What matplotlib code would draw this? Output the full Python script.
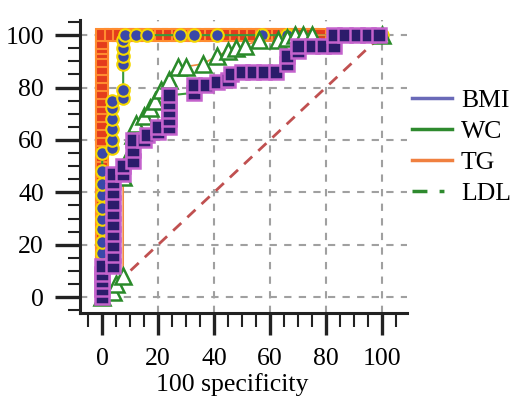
import numpy as np
import matplotlib.pyplot as plt
from matplotlib.lines import Line2D
from matplotlib.ticker import MultipleLocator

# TG (red squares): vertical run at x=0, then along the top
tg_x = [0, 0, 0, 0, 0, 0, 0, 0, 0, 0, 0, 0, 0, 0, 0, 0, 0, 0, 0, 0, 0,
        0, 0, 0, 0, 0, 0, 0, 0, 0, 0, 0, 0, 0, 0,
        3, 6, 9, 12, 15, 18, 21, 24, 27, 30, 33, 36, 39, 42, 45, 48, 51,
        54, 57, 60, 63, 66, 69, 72, 75, 78]
tg_y = [0, 3, 6, 9, 12, 15, 18, 21, 24, 27, 30, 33, 36, 39, 42, 45, 48,
        51, 54, 57, 60, 63, 66, 69, 72, 75, 78, 81, 84, 87, 90, 93, 95,
        97, 100,
        100, 100, 100, 100, 100, 100, 100, 100, 100, 100, 100, 100, 100,
        100, 100, 100, 100, 100, 100, 100, 100, 100, 100, 100, 100, 100]

# BMI (blue circles)
bmi_x = [0, 0, 0, 0, 0, 0, 0, 0, 0, 0, 0, 0, 0,
         3.5, 3.5, 3.5, 3.5, 3.5, 3.5,
         7.5, 7.5, 7.5, 7.5, 7.5, 7.5, 8,
         12, 16, 28, 33, 41, 57, 66, 100]
bmi_y = [0, 4, 8, 13, 17, 21, 26, 30, 34, 39, 43, 48, 55,
         57, 60, 64, 68, 72, 75,
         76, 79, 89, 92, 95, 98, 100,
         100, 100, 100, 100, 100, 100, 100, 100]

# WC (open triangles)
wc_x = [0, 4, 5, 7.5, 7.5, 10, 11, 12, 15, 17, 19, 21, 24, 27, 30, 36,
        41, 45, 48, 51, 56, 63, 66, 69, 72, 75, 100]
wc_y = [0, 2, 5, 8, 46, 55, 62, 66, 69, 72, 75, 79, 83, 88, 88, 89,
        92, 94, 95, 96, 98, 98, 99, 100, 100, 100, 100]

# LDL (purple squares)
ldl_x = [0, 0, 0, 0, 0,
         4, 4, 4, 4, 4, 4, 4, 4, 4, 4,
         7.5, 7.5, 11, 11, 11, 15, 16, 20, 20,
         24, 24, 24, 24, 24, 33, 33, 37, 41, 45, 46,
         50, 54, 58, 62, 66, 66, 70, 70, 75, 79, 83,
         83, 87, 91, 95, 99]
ldl_y = [0, 3, 6, 9, 12,
         12, 16, 20, 24, 28, 32, 36, 40, 44, 47,
         47, 50, 52, 56, 60, 60, 62, 63, 65,
         65, 68, 71, 74, 77, 78, 81, 81, 82, 83, 85,
         86, 86, 86, 86, 89, 92, 94, 96, 96, 96, 96,
         100, 100, 100, 100, 100]

legend_labels = ['BMI', 'WC', 'TG', 'LDL']

plt.rcParams['font.family'] = ['Liberation Serif', 'DejaVu Serif']
plt.rcParams['font.size'] = 18.5

fig = plt.figure(figsize=(5.17, 4.04), dpi=100)
ax = fig.add_axes([0.155, 0.225, 0.632, 0.725])

# reference diagonal
ax.plot([0, 100], [0, 100], color='#c05050', lw=2, dashes=(4, 3), zorder=1)

ax.plot(tg_x, tg_y, color='#f07830', lw=3, marker='s', ms=9,
        mfc='#e43c1c', mec='#ff8c30', mew=1.5, zorder=2)
ax.plot(bmi_x, bmi_y, color='#3a9a3a', lw=1.5, marker='o', ms=9,
        mfc='#3a48a8', mec='#f5d800', mew=1.5, zorder=3)
ax.plot(wc_x, wc_y, color='#f08a40', lw=1.2, marker='^', ms=11,
        mfc='white', mec='#2a8a2a', mew=1.8, zorder=4)
ax.plot(ldl_x, ldl_y, color='#3a9a3a', lw=1.5, marker='s', ms=10,
        mfc='#2b1c6b', mec='#c462cc', mew=1.8, zorder=5)

ax.set_xlim(-7.9, 109)
ax.set_ylim(-6.1, 105.7)
ax.set_xticks([0, 20, 40, 60, 80, 100])
ax.set_yticks([0, 20, 40, 60, 80, 100])
ax.xaxis.set_minor_locator(MultipleLocator(5))
ax.yaxis.set_minor_locator(MultipleLocator(5))

for s in ['top', 'right']:
    ax.spines[s].set_visible(False)
for s in ['left', 'bottom']:
    ax.spines[s].set_linewidth(2.2)
    ax.spines[s].set_color('#222222')

ax.tick_params(axis='x', which='major', length=16, width=2.4, pad=9,
               color='#222222')
ax.tick_params(axis='x', which='minor', length=10, width=1.5,
               color='#222222')
ax.tick_params(axis='y', which='major', length=18, width=2.4, pad=8,
               color='#222222')
ax.tick_params(axis='y', which='minor', length=9, width=1.5,
               color='#222222')

# dashed grid at the major ticks (not at x=0)
for gx in [20, 40, 60, 80, 100]:
    ax.axvline(gx, color='#a0a0a0', lw=1.5, dashes=(3.5, 3.5), zorder=0)
for gy in [0, 20, 40, 60, 80, 100]:
    ax.axhline(gy, color='#a0a0a0', lw=1.5, dashes=(3.5, 3.5), zorder=0)

ax.set_xlabel('100 specificity', fontsize=18.5)
ax.xaxis.set_label_coords(0.465, -0.205)

handles = [
    Line2D([], [], color='#6a6ab8', lw=2.5),
    Line2D([], [], color='#2e8a2e', lw=2.5),
    Line2D([], [], color='#f08040', lw=2.5),
    Line2D([], [], color='#2e8a2e', lw=2.5, dashes=(4.3, 3.5, 1.4, 3.5)),
]
fig.legend(handles, legend_labels, loc='center left',
           bbox_to_anchor=(0.797, 0.636), frameon=False, fontsize=18.5,
           borderpad=0, borderaxespad=0, handlelength=1.55,
           handletextpad=0.35, labelspacing=0.32)

fig.savefig('out.png', dpi=100)
